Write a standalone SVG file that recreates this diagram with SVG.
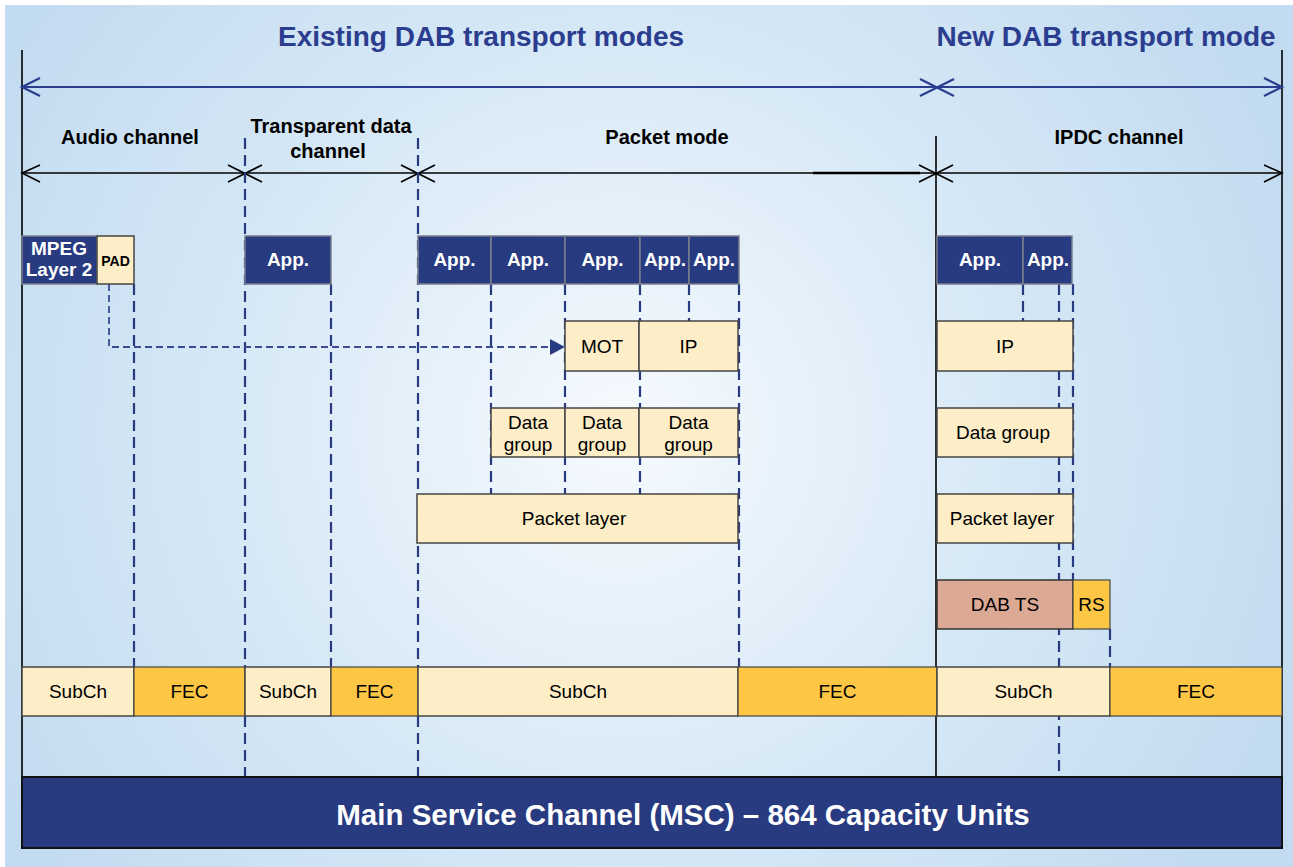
<svg xmlns="http://www.w3.org/2000/svg" width="1293" height="867" viewBox="0 0 1293 867">
<defs>
<radialGradient id="bg" cx="620" cy="430" r="720" gradientUnits="userSpaceOnUse">
<stop offset="0" stop-color="#f6fafe"/>
<stop offset="0.55" stop-color="#d6e8f6"/>
<stop offset="1" stop-color="#c3dbf0"/>
</radialGradient>
<style>
.title{font-family:"Liberation Sans",Arial,sans-serif;font-weight:bold;font-size:28px;fill:#2b3d8f;text-anchor:middle}
.hdr{font-family:"Liberation Sans",Arial,sans-serif;font-weight:bold;font-size:20px;fill:#000;text-anchor:middle}
.app{fill:#283a80;stroke:#7a7f8c;stroke-width:1.5}
.appt{font-family:"Liberation Sans",Arial,sans-serif;font-weight:bold;font-size:19px;fill:#fff;text-anchor:middle}
.cream{fill:#fdeec8;stroke:#444;stroke-width:1.5}
.orange{fill:#fdc645;stroke:#444;stroke-width:1.2}
.salmon{fill:#dca995;stroke:#333;stroke-width:1.5}
.t{font-family:"Liberation Sans",Arial,sans-serif;font-size:19px;fill:#000;text-anchor:middle}
.dash{stroke:#283a80;stroke-width:2.2;stroke-dasharray:11 6;fill:none}
.dash2{stroke:#3a4c92;stroke-width:1.8;stroke-dasharray:7 4;fill:none}
.solid{stroke:#000;stroke-width:1.6;fill:none}
.blue{stroke:#2b3d8f;stroke-width:2.2;fill:none}
.blk{stroke:#000;stroke-width:1.6;fill:none}
</style>
</defs>
<rect x="0" y="0" width="1293" height="867" fill="#ffffff"/>
<rect x="5" y="5" width="1288" height="862" fill="url(#bg)"/>

<g id="titles">
<text class="title" x="481" y="46">Existing DAB transport modes</text>
<text class="title" x="1106" y="46">New DAB transport mode</text>
<text class="hdr" x="130" y="144">Audio channel</text>
<text class="hdr" x="331" y="133">Transparent data</text>
<text class="hdr" x="328" y="158">channel</text>
<text class="hdr" x="667" y="144">Packet mode</text>
<text class="hdr" x="1119" y="144">IPDC channel</text>
</g>

<g id="connectors">
<line class="solid" x1="22" y1="50" x2="22" y2="777"/>
<line class="solid" x1="1282" y1="50" x2="1282" y2="777"/>
<line class="solid" x1="936" y1="136" x2="936" y2="777"/>
<line class="blue" x1="22" y1="87" x2="1282" y2="87"/>
<polyline class="blue" points="40,78 22,87 40,96"/>
<polyline class="blue" points="1264,78 1282,87 1264,96"/>
<line class="blue" x1="920" y1="79" x2="954" y2="96"/>
<line class="blue" x1="920" y1="96" x2="954" y2="79"/>
<line class="blk" x1="22" y1="173" x2="1282" y2="173"/>
<line stroke="#000" stroke-width="2.6" x1="813" y1="173" x2="920" y2="173"/>
<polyline class="blk" points="40,165 22,173 40,182"/>
<polyline class="blk" points="1264,165 1282,173 1264,182"/>
<line class="blk" x1="228" y1="165" x2="262" y2="182"/>
<line class="blk" x1="228" y1="182" x2="262" y2="165"/>
<line class="blk" x1="401" y1="165" x2="435" y2="182"/>
<line class="blk" x1="401" y1="182" x2="435" y2="165"/>
<line class="blk" x1="919" y1="165" x2="953" y2="182"/>
<line class="blk" x1="919" y1="182" x2="953" y2="165"/>
<line class="dash" x1="245" y1="138" x2="245" y2="777"/>
<line class="dash" x1="418" y1="138" x2="418" y2="777"/>
<line class="dash" x1="134" y1="284" x2="134" y2="667"/>
<line class="dash" x1="331" y1="284" x2="331" y2="667"/>
<line class="dash" x1="491" y1="284" x2="491" y2="494"/>
<line class="dash" x1="565" y1="284" x2="565" y2="494"/>
<line class="dash" x1="640" y1="284" x2="640" y2="494"/>
<line class="dash" x1="689" y1="284" x2="689" y2="321"/>
<line class="dash" x1="739" y1="284" x2="739" y2="667"/>
<line class="dash" x1="1023" y1="284" x2="1023" y2="321"/>
<line class="dash" x1="1059" y1="284" x2="1059" y2="777"/>
<line class="dash" x1="1073" y1="284" x2="1073" y2="580"/>
<line class="dash" x1="1110" y1="629" x2="1110" y2="667"/>
<polyline class="dash2" points="109,284 109,347 550,347"/>
<polygon points="550,339 565,347 550,355" fill="#283a80"/>
</g>

<g id="mpeg"><rect class="app" x="22" y="236" width="75" height="48"/>
<text class="appt" x="59" y="255" font-size="18">MPEG</text>
<text class="appt" x="59" y="276" font-size="18">Layer 2</text></g>
<g id="pad"><rect class="cream" x="97" y="236" width="37" height="48"/>
<text x="115.5" y="266" font-family="Liberation Sans,Arial,sans-serif" font-weight="bold" font-size="14" text-anchor="middle">PAD</text></g>
<g id="app-td"><rect class="app" x="245" y="236" width="86" height="48"/><text class="appt" x="288" y="266">App.</text></g>
<g id="app-p1"><rect class="app" x="418" y="236" width="73" height="48"/><text class="appt" x="454.5" y="266">App.</text></g>
<g id="app-p2"><rect class="app" x="491" y="236" width="74" height="48"/><text class="appt" x="528" y="266">App.</text></g>
<g id="app-p3"><rect class="app" x="565" y="236" width="75" height="48"/><text class="appt" x="602.5" y="266">App.</text></g>
<g id="app-p4"><rect class="app" x="640" y="236" width="49" height="48"/><text class="appt" x="665" y="266">App.</text></g>
<g id="app-p5"><rect class="app" x="689" y="236" width="50" height="48"/><text class="appt" x="714" y="266">App.</text></g>
<g id="app-i1"><rect class="app" x="937" y="236" width="86" height="48"/><text class="appt" x="980" y="266">App.</text></g>
<g id="app-i2"><rect class="app" x="1023" y="236" width="49" height="48"/><text class="appt" x="1048" y="266">App.</text></g>

<g id="mot"><rect class="cream" x="565" y="321" width="74" height="50"/><text class="t" x="602" y="353">MOT</text></g>
<g id="ip-p"><rect class="cream" x="639" y="321" width="99" height="50"/><text class="t" x="688.5" y="353">IP</text></g>
<g id="dg1"><rect class="cream" x="491" y="408" width="74" height="49"/><text class="t" x="528" y="429">Data</text><text class="t" x="528" y="451">group</text></g>
<g id="dg2"><rect class="cream" x="565" y="408" width="74" height="49"/><text class="t" x="602" y="429">Data</text><text class="t" x="602" y="451">group</text></g>
<g id="dg3"><rect class="cream" x="639" y="408" width="99" height="49"/><text class="t" x="688.5" y="429">Data</text><text class="t" x="688.5" y="451">group</text></g>
<g id="pl-p"><rect class="cream" x="417" y="494" width="321" height="49"/><text class="t" x="574" y="525">Packet layer</text></g>

<g id="ip-i"><rect class="cream" x="937" y="321" width="136" height="50"/><text class="t" x="1005" y="353">IP</text></g>
<g id="dg-i"><rect class="cream" x="937" y="408" width="136" height="49"/><text class="t" x="1003" y="439">Data group</text></g>
<g id="pl-i"><rect class="cream" x="937" y="494" width="136" height="49"/><text class="t" x="1002" y="525">Packet layer</text></g>
<g id="dabts"><rect class="salmon" x="937" y="580" width="136" height="49"/><text class="t" x="1005" y="611">DAB TS</text></g>
<g id="rs"><rect class="orange" x="1073" y="580" width="37" height="49" stroke-width="1.5"/><text class="t" x="1091.5" y="611">RS</text></g>

<g id="subch-row">
<rect class="cream" x="22" y="667" width="112" height="49" stroke-width="1.2"/><text class="t" x="78" y="698">SubCh</text>
<rect class="orange" x="134" y="667" width="111" height="49"/><text class="t" x="189.5" y="698">FEC</text>
<rect class="cream" x="245" y="667" width="86" height="49" stroke-width="1.2"/><text class="t" x="288" y="698">SubCh</text>
<rect class="orange" x="331" y="667" width="87" height="49"/><text class="t" x="374.5" y="698">FEC</text>
<rect class="cream" x="418" y="667" width="320" height="49" stroke-width="1.2"/><text class="t" x="578" y="698">SubCh</text>
<rect class="orange" x="738" y="667" width="199" height="49"/><text class="t" x="837.5" y="698">FEC</text>
<rect class="cream" x="937" y="667" width="173" height="49" stroke-width="1.2"/><text class="t" x="1023.5" y="698">SubCh</text>
<rect class="orange" x="1110" y="667" width="172" height="49"/><text class="t" x="1196" y="698">FEC</text>
</g>

<g id="msc"><rect x="22" y="777" width="1260" height="71" fill="#283a80" stroke="#111" stroke-width="2"/>
<text x="683" y="825" font-family="Liberation Sans,Arial,sans-serif" font-weight="bold" font-size="29.5" fill="#fff" text-anchor="middle">Main Service Channel (MSC) – 864 Capacity Units</text></g>
</svg>
